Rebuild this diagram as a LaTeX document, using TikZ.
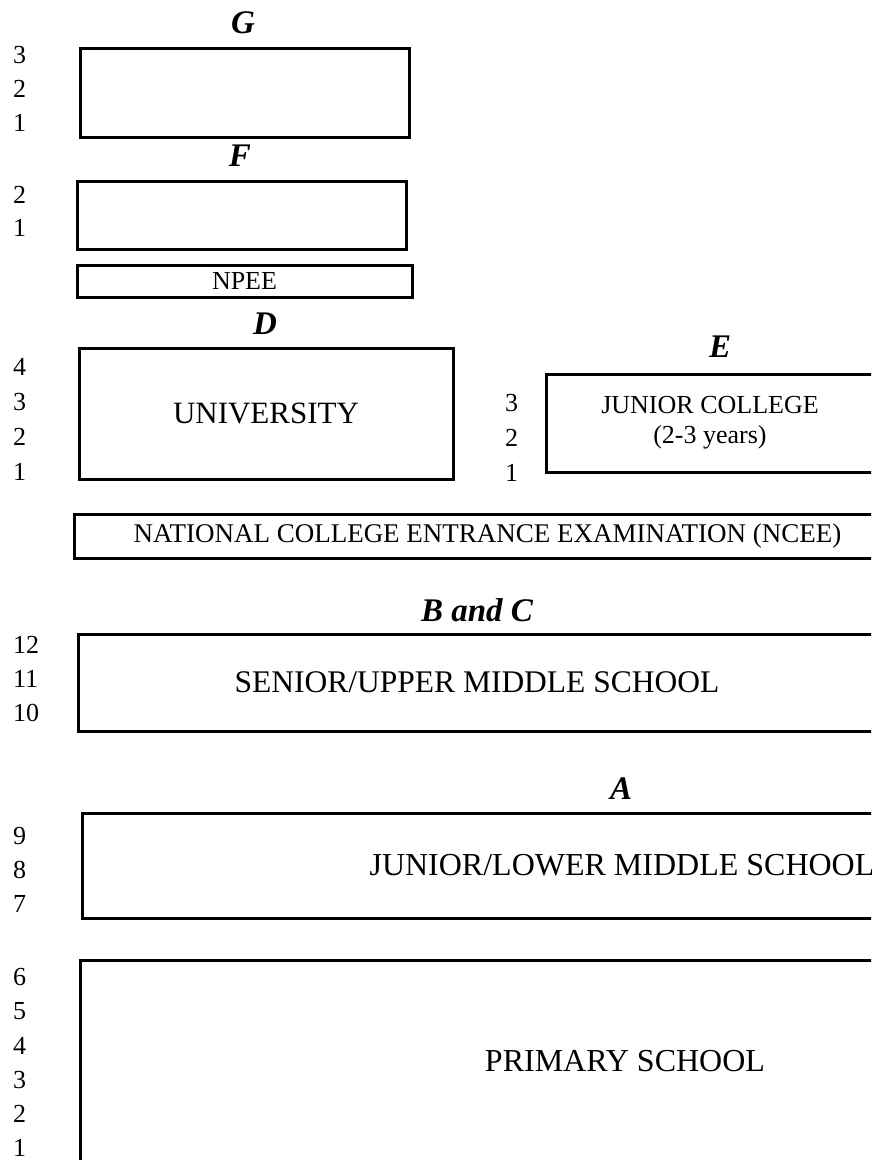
\documentclass[tikz,border=0pt]{standalone}
\usepackage{fontspec}
\setmainfont{Liberation Serif}
\begin{document}
\begin{tikzpicture}[
  x=1pt, y=-1pt,
  box/.style={draw=black, line width=3pt, anchor=north west, inner sep=0pt, outer sep=0pt, align=center},
  yr/.style={anchor=west, inner sep=0pt, font=\fontsize{26}{30}\selectfont},
  lvl/.style={inner sep=0pt, font=\fontsize{33}{38}\selectfont\bfseries\itshape}
]
  \useasboundingbox (0,0) rectangle (871,1160);
  \clip (0,0) rectangle (871,1160);

  % Level labels
  \node[lvl] (labG) at (243,23) {G};
  \node[lvl] (labF) at (240,156) {F};
  \node[lvl] (labD) at (265,324) {D};
  \node[lvl] (labE) at (720,347) {E};
  \node[lvl] (labBC) at (477,610) {B and C};
  \node[lvl] (labA) at (621,789) {A};

  % Boxes
  \node[box, minimum width=329pt, minimum height=89pt] (gbox) at (80,48) {};
  \node[box, minimum width=329pt, minimum height=68pt] (fbox) at (77,181) {};
  \node[box, minimum width=335pt, minimum height=32pt, font=\fontsize{26}{30}\selectfont] (npee) at (77,265) {NPEE};
  \node[box, minimum width=374pt, minimum height=131pt, font=\fontsize{31}{36}\selectfont] (univ) at (79,348) {UNIVERSITY};
  \node[box, minimum width=328pt, minimum height=98pt, font=\fontsize{26}{30}\selectfont] (jcol) at (546,374) {JUNIOR COLLEGE\\(2-3 years)};
  \node[box, minimum width=827pt, minimum height=44pt, font=\fontsize{27}{32}\selectfont] (ncee) at (74,514) {NATIONAL COLLEGE ENTRANCE EXAMINATION (NCEE)};
  \node[box, minimum width=798pt, minimum height=97pt, font=\fontsize{31.5}{36}\selectfont] (senior) at (78,634) {SENIOR/UPPER MIDDLE SCHOOL};
  \node[box, minimum width=1080pt, minimum height=105pt, font=\fontsize{32}{36}\selectfont] (junior) at (82,813) {JUNIOR/LOWER MIDDLE SCHOOL};
  \node[box, minimum width=1090pt, minimum height=202pt, font=\fontsize{32}{36}\selectfont] (primary) at (80,960) {PRIMARY SCHOOL};

  % Year numbers
  \foreach \n [count=\i] in {3,2,1} \node[yr] (g\n) at (13,21+34*\i) {\n};
  \foreach \n [count=\i] in {2,1} \node[yr] (f\n) at (13,162+33*\i) {\n};
  \foreach \n [count=\i] in {4,3,2,1} \node[yr] (d\n) at (13,332+35*\i) {\n};
  \foreach \n [count=\i] in {3,2,1} \node[yr] (e\n) at (505,368+35*\i) {\n};
  \foreach \n [count=\i] in {12,11,10} \node[yr] (bc\n) at (13,611+34*\i) {\n};
  \foreach \n [count=\i] in {9,8,7} \node[yr] (a\n) at (13,802+34*\i) {\n};
  \foreach \n [count=\i] in {6,5,4,3,2,1} \node[yr] (p\n) at (13,943+34.2*\i) {\n};

\end{tikzpicture}
\end{document}
